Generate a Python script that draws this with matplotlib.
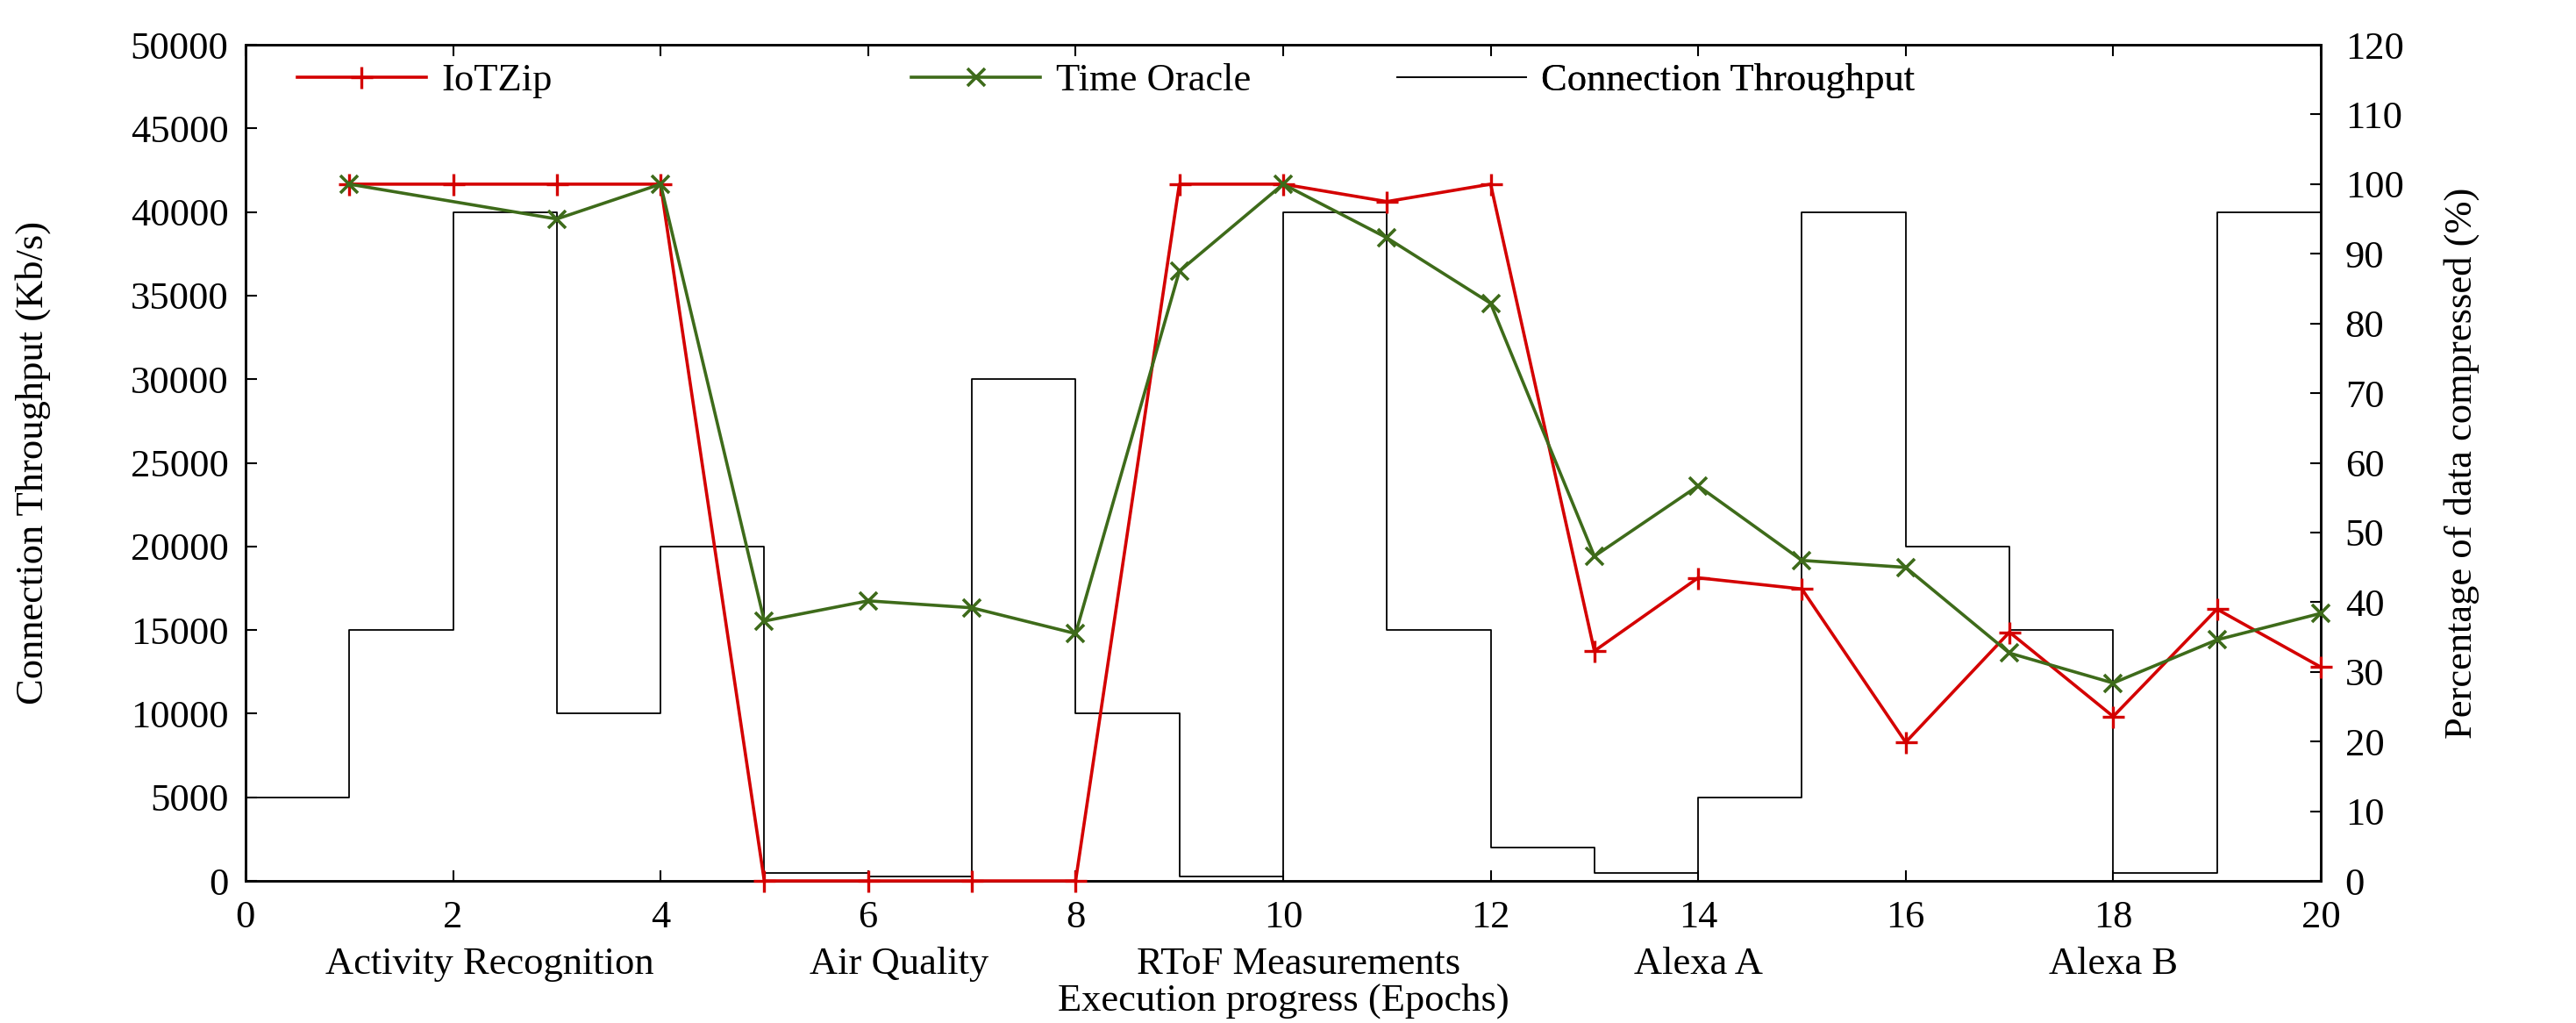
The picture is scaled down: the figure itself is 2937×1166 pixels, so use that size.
import matplotlib.pyplot as plt
from matplotlib.lines import Line2D
from matplotlib.transforms import blended_transform_factory

# epochs 1..20, throughput is a step per epoch interval
epoch_edges = list(range(0, 21))
throughput = [5000, 15000, 40000, 10000, 20000, 500, 250, 30000, 10000, 250,
              40000, 15000, 2000, 500, 5000, 40000, 20000, 15000, 500, 40000]

iotzip_epochs = list(range(1, 21))
iotzip = [100, 100, 100, 100, 0, 0, 0, 0, 100, 100,
          97.5, 100, 33.0, 43.5, 41.9, 19.9, 35.7, 23.6, 39.0, 30.7]

oracle_epochs = [1] + list(range(3, 21))
oracle = [100, 95.0, 100, 37.3, 40.2, 39.2, 35.5, 87.5, 100, 92.3,
          82.9, 46.6, 56.7, 46.0, 45.0, 32.7, 28.4, 34.6, 38.4]

workloads = ['Activity Recognition', 'Air Quality', 'RToF Measurements', 'Alexa A', 'Alexa B']
workload_pos = [2.35, 6.3, 10.15, 14.0, 18.0]

RED = '#d40000'
GREEN = '#3e6b1a'

plt.rcParams['font.family'] = ['Liberation Serif', 'DejaVu Serif']
fs = 32

fig = plt.figure(figsize=(29.37, 11.66), dpi=100)
ax = fig.add_axes([0.0953, 0.1389, 0.8056, 0.8173])
ax2 = ax.twinx()

ax.step(epoch_edges, throughput + [throughput[-1]], where='post', color='black', lw=1.3)
ax2.plot(iotzip_epochs, iotzip, color=RED, lw=2.6, marker='+', ms=18, mew=2.4, clip_on=False, zorder=4)
ax2.plot(oracle_epochs, oracle, color=GREEN, lw=2.6, marker='x', ms=15, mew=2.6, clip_on=False, zorder=5)

ax.set_xlim(0, 20)
ax.set_ylim(0, 50000)
ax2.set_ylim(0, 120)
ax.set_xticks(range(0, 21, 2))
ax.set_yticks(range(0, 50001, 5000))
ax2.set_yticks(range(0, 121, 10))

for a in (ax, ax2):
    for s in a.spines.values():
        s.set_linewidth(1.8)
ax.tick_params(axis='both', direction='in', length=9, width=1.5, labelsize=fs, top=True, right=False)
ax.tick_params(axis='y', pad=14)
ax.tick_params(axis='x', pad=16)
ax2.tick_params(axis='y', direction='in', length=9, width=1.5, labelsize=fs, pad=20)

ax.set_ylabel('Connection Throughput (Kb/s)', fontsize=fs, labelpad=65)
ax2.set_ylabel('Percentage of data compressed (%)', fontsize=fs, labelpad=33)

trans = blended_transform_factory(ax.transData, ax.transAxes)
for name, pos in zip(workloads, workload_pos):
    ax.text(pos, -0.1, name, transform=trans, ha='center', va='center', fontsize=fs)
ax.text(10, -0.143, 'Execution progress (Epochs)', transform=trans, ha='center', va='center', fontsize=fs)

# three separate legend entries along the top, like the original
entries = [
    (Line2D([], [], color=RED, lw=2.6, marker='+', ms=18, mew=2.4), 'IoTZip', 0.025),
    (Line2D([], [], color=GREEN, lw=2.6, marker='x', ms=15, mew=2.6), 'Time Oracle', 0.321),
    (Line2D([], [], color='black', lw=1.3), 'Connection Throughput', 0.555),
]
for handle, label, xpos in entries:
    leg = ax2.legend([handle], [label], loc='center left', bbox_to_anchor=(xpos, 0.957),
                     frameon=False, fontsize=fs, handlelength=3.3, handletextpad=0.4,
                     borderaxespad=0, borderpad=0, numpoints=1)
    ax2.add_artist(leg)

fig.savefig('out.png', dpi=100)
